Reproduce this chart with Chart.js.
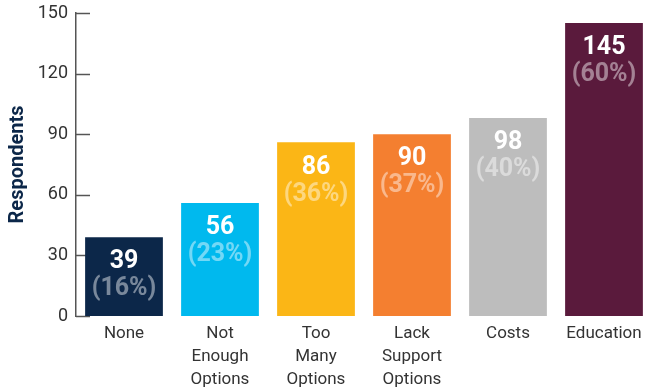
<!DOCTYPE html>
<html>
<head>
<meta charset="utf-8">
<script src="https://cdn.jsdelivr.net/npm/chart.js@4"></script>
<style>
  html, body { margin: 0; padding: 0; background: #fff; overflow: hidden; }
  #wrap { width: 652px; height: 391px; }
</style>
</head>
<body>
<div id="wrap"><canvas id="chart"></canvas></div>
<script>
// chart data
const categories = [['None'], ['Not', 'Enough', 'Options'], ['Too', 'Many', 'Options'], ['Lack', 'Support', 'Options'], ['Costs'], ['Education']];
const respondents = [39, 56, 86, 90, 98, 145];
const percents = [16, 23, 36, 37, 40, 60];
const barColors = ['#0c2749', '#00b9ee', '#fbb616', '#f47f30', '#bdbdbd', '#5a1a3c'];
const yTicks = [0, 30, 60, 90, 120, 150];

const FONT = 'Roboto, "Noto Sans", sans-serif';

// short tick marks that sit inside the plot, to the right of the axis line
const insideTicks = {
    id: 'insideTicks',
    beforeDatasetsDraw(chart) {
        const ctx = chart.ctx;
        const y = chart.scales.y;
        const left = chart.chartArea.left;
        ctx.save();
        ctx.strokeStyle = '#555';
        ctx.lineWidth = 1.5;
        yTicks.forEach(v => {
            const py = Math.round(y.getPixelForValue(v)) + 0.5;
            ctx.beginPath();
            ctx.moveTo(left, py);
            ctx.lineTo(left + 14, py);
            ctx.stroke();
        });
        ctx.restore();
    }
};

// value + percentage written inside each bar
const barLabels = {
    id: 'barLabels',
    afterDatasetsDraw(chart) {
        const ctx = chart.ctx;
        const meta = chart.getDatasetMeta(0);
        ctx.save();
        ctx.textAlign = 'center';
        ctx.textBaseline = 'middle';
        meta.data.forEach((bar, i) => {
            ctx.fillStyle = '#fff';
            ctx.font = 'bold 25px ' + FONT;
            ctx.fillText(String(respondents[i]), bar.x, bar.y + 25);
            ctx.fillStyle = 'rgba(255,255,255,0.45)';
            ctx.fillText('(' + percents[i] + '%)', bar.x, bar.y + 52);
        });
        ctx.restore();
    }
};

new Chart(document.getElementById('chart'), {
    type: 'bar',
    data: {
        labels: categories,
        datasets: [{
            label: 'Respondents',
            data: respondents,
            backgroundColor: barColors,
            borderWidth: 0,
            categoryPercentage: 1,
            barPercentage: 0.81
        }]
    },
    options: {
        responsive: true,
        maintainAspectRatio: false,
        animation: false,
        layout: { padding: { top: 13, right: 0, left: 6, bottom: 0 } },
        plugins: {
            legend: { display: false },
            tooltip: { enabled: false }
        },
        scales: {
            x: {
                grid: { display: false, drawTicks: false },
                border: { display: false },
                ticks: {
                    color: '#333',
                    font: { family: FONT, size: 17, lineHeight: 1.35 },
                    padding: 6,
                    maxRotation: 0,
                    autoSkip: false
                },
                afterFit(scale) { scale.height = 75; }
            },
            y: {
                min: 0,
                max: 150,
                afterBuildTicks(scale) { scale.ticks = yTicks.map(v => ({ value: v })); },
                grid: { display: false, drawTicks: false },
                border: { display: true, color: '#555', width: 1.5 },
                ticks: {
                    color: '#333',
                    font: { family: FONT, size: 18 },
                    padding: 8
                },
                title: {
                    display: true,
                    text: 'Respondents',
                    color: '#0c2749',
                    font: { family: FONT, size: 20, weight: 'bold' },
                    padding: { top: 0, bottom: 2 }
                },
                afterFit(scale) {
                    scale.width = 70;
                    scale.paddingTop = 0;
                    scale.paddingBottom = 0;
                }
            }
        }
    },
    plugins: [insideTicks, barLabels]
});
</script>
</body>
</html>
